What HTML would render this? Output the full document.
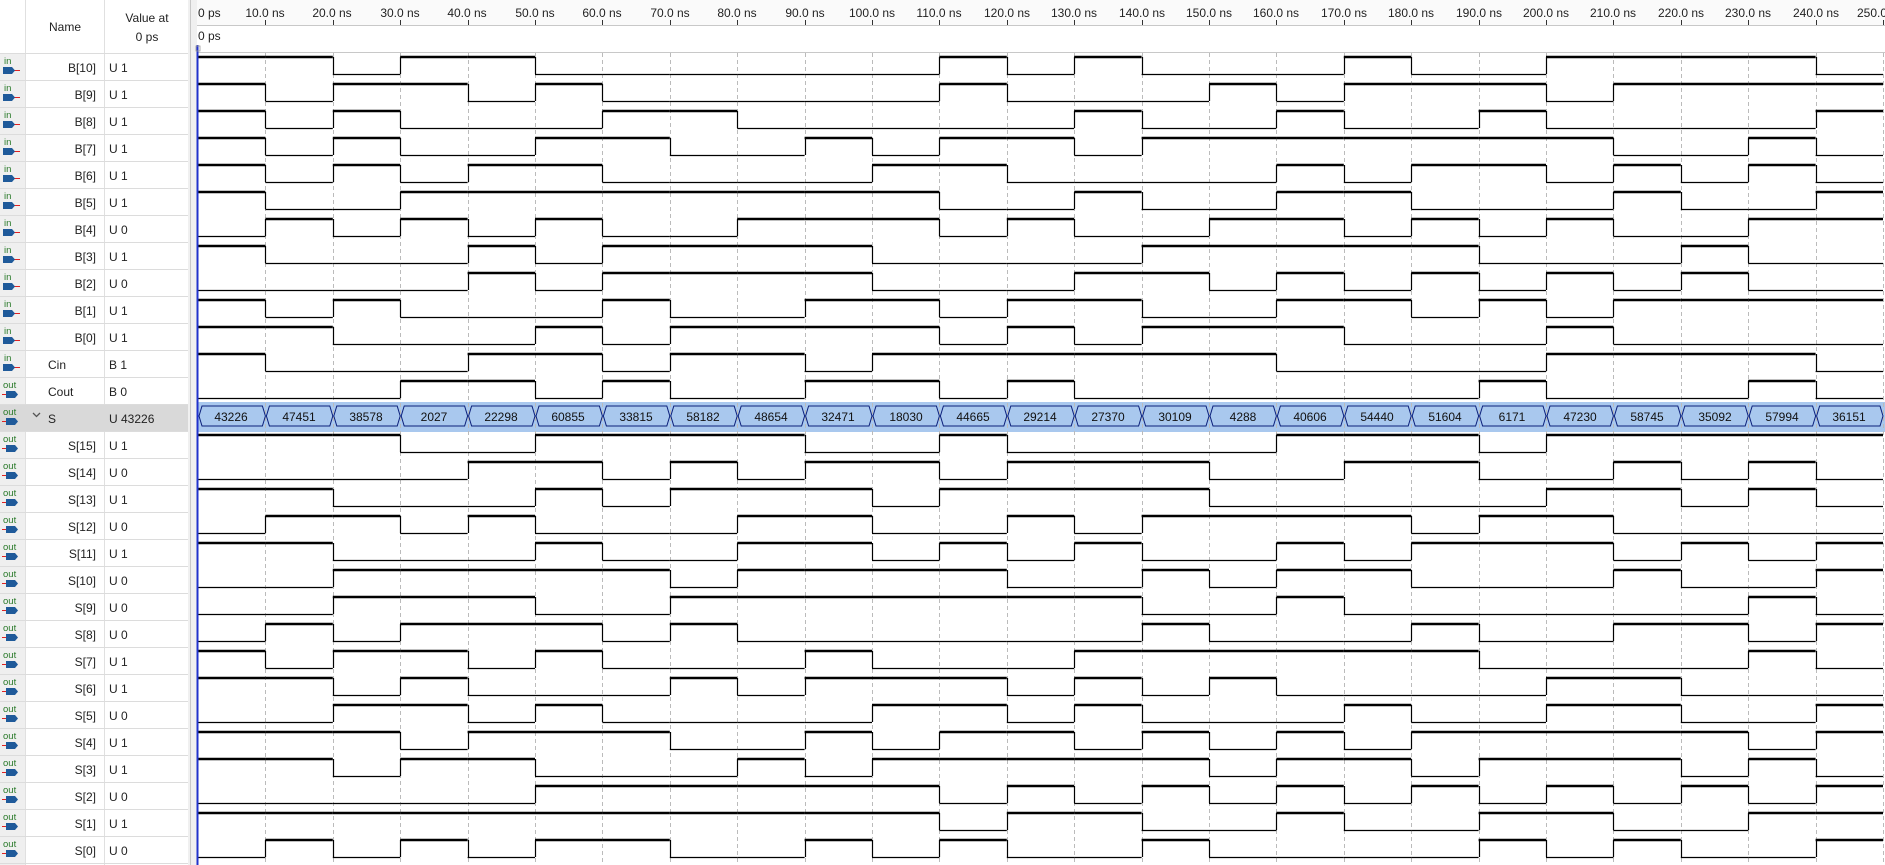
<!DOCTYPE html>
<html><head><meta charset="utf-8"><style>
body{margin:0;width:1885px;height:865px;overflow:hidden;background:#fff;font-family:"Liberation Sans","DejaVu Sans",sans-serif;}
svg{position:absolute;left:0;top:0}
</style></head><body>
<svg id="s" width="1885" height="865" xmlns="http://www.w3.org/2000/svg" font-family="Liberation Sans, DejaVu Sans, sans-serif">
<rect x="0" y="0" width="1885" height="865" fill="#fff"/>
<rect x="0" y="53" width="25" height="812" fill="#efefef"/>
<rect x="188" y="0" width="9" height="865" fill="#f0f0f0"/>
<line x1="190.5" y1="0" x2="190.5" y2="865" stroke="#c8c8c8"/>
<rect x="197" y="0" width="1688" height="25" fill="#fafafa"/>
<line x1="197" y1="25.5" x2="1885" y2="25.5" stroke="#c8c8c8"/>
<line x1="197" y1="52.5" x2="1885" y2="52.5" stroke="#c8c8c8"/>
<line x1="25.5" y1="0" x2="25.5" y2="865" stroke="#e0e0e0"/>
<line x1="104.5" y1="0" x2="104.5" y2="865" stroke="#e0e0e0"/>
<text x="65" y="31" font-size="12" text-anchor="middle" fill="#222">Name</text>
<text x="147" y="22" font-size="12" text-anchor="middle" fill="#222">Value at</text>
<text x="147" y="41" font-size="12" text-anchor="middle" fill="#222">0 ps</text>
<text x="198" y="17" font-size="12" fill="#222">0 ps</text>
<text x="198" y="40" font-size="12" fill="#222">0 ps</text>
<g id="ruler" font-size="12" fill="#222" text-anchor="middle">
<text x="265" y="17">10.0 ns</text><text x="332" y="17">20.0 ns</text><text x="400" y="17">30.0 ns</text><text x="467" y="17">40.0 ns</text><text x="535" y="17">50.0 ns</text><text x="602" y="17">60.0 ns</text><text x="670" y="17">70.0 ns</text><text x="737" y="17">80.0 ns</text><text x="805" y="17">90.0 ns</text><text x="872" y="17">100.0 ns</text><text x="939" y="17">110.0 ns</text><text x="1007" y="17">120.0 ns</text><text x="1074" y="17">130.0 ns</text><text x="1142" y="17">140.0 ns</text><text x="1209" y="17">150.0 ns</text><text x="1276" y="17">160.0 ns</text><text x="1344" y="17">170.0 ns</text><text x="1411" y="17">180.0 ns</text><text x="1479" y="17">190.0 ns</text><text x="1546" y="17">200.0 ns</text><text x="1613" y="17">210.0 ns</text><text x="1681" y="17">220.0 ns</text><text x="1748" y="17">230.0 ns</text><text x="1816" y="17">240.0 ns</text><text x="1872" y="17">250.0</text>
</g>
<rect x="0" y="404" width="188" height="27" fill="#d9d9d9"/>
<g id="names" font-size="12" fill="#222">
<text x="96" y="72" text-anchor="end">B[10]</text><text x="109" y="72">U 1</text>
<text x="96" y="99" text-anchor="end">B[9]</text><text x="109" y="99">U 1</text>
<text x="96" y="126" text-anchor="end">B[8]</text><text x="109" y="126">U 1</text>
<text x="96" y="153" text-anchor="end">B[7]</text><text x="109" y="153">U 1</text>
<text x="96" y="180" text-anchor="end">B[6]</text><text x="109" y="180">U 1</text>
<text x="96" y="207" text-anchor="end">B[5]</text><text x="109" y="207">U 1</text>
<text x="96" y="234" text-anchor="end">B[4]</text><text x="109" y="234">U 0</text>
<text x="96" y="261" text-anchor="end">B[3]</text><text x="109" y="261">U 1</text>
<text x="96" y="288" text-anchor="end">B[2]</text><text x="109" y="288">U 0</text>
<text x="96" y="315" text-anchor="end">B[1]</text><text x="109" y="315">U 1</text>
<text x="96" y="342" text-anchor="end">B[0]</text><text x="109" y="342">U 1</text>
<text x="48" y="369">Cin</text><text x="109" y="369">B 1</text>
<text x="48" y="396">Cout</text><text x="109" y="396">B 0</text>
<text x="48" y="423">S</text><text x="109" y="423">U 43226</text>
<text x="96" y="450" text-anchor="end">S[15]</text><text x="109" y="450">U 1</text>
<text x="96" y="477" text-anchor="end">S[14]</text><text x="109" y="477">U 0</text>
<text x="96" y="504" text-anchor="end">S[13]</text><text x="109" y="504">U 1</text>
<text x="96" y="531" text-anchor="end">S[12]</text><text x="109" y="531">U 0</text>
<text x="96" y="558" text-anchor="end">S[11]</text><text x="109" y="558">U 1</text>
<text x="96" y="585" text-anchor="end">S[10]</text><text x="109" y="585">U 0</text>
<text x="96" y="612" text-anchor="end">S[9]</text><text x="109" y="612">U 0</text>
<text x="96" y="639" text-anchor="end">S[8]</text><text x="109" y="639">U 0</text>
<text x="96" y="666" text-anchor="end">S[7]</text><text x="109" y="666">U 1</text>
<text x="96" y="693" text-anchor="end">S[6]</text><text x="109" y="693">U 1</text>
<text x="96" y="720" text-anchor="end">S[5]</text><text x="109" y="720">U 0</text>
<text x="96" y="747" text-anchor="end">S[4]</text><text x="109" y="747">U 1</text>
<text x="96" y="774" text-anchor="end">S[3]</text><text x="109" y="774">U 1</text>
<text x="96" y="801" text-anchor="end">S[2]</text><text x="109" y="801">U 0</text>
<text x="96" y="828" text-anchor="end">S[1]</text><text x="109" y="828">U 1</text>
<text x="96" y="855" text-anchor="end">S[0]</text><text x="109" y="855">U 0</text>
<path d="M33 413 l3.5 3.5 l3.5 -3.5" fill="none" stroke="#555" stroke-width="1.3"/>
</g>
<g id="icons" font-size="9.5" fill="#2a7a2a">
<text x="4" y="64">in</text><text x="4" y="91">in</text><text x="4" y="118">in</text><text x="4" y="145">in</text><text x="4" y="172">in</text><text x="4" y="199">in</text><text x="4" y="226">in</text><text x="4" y="253">in</text><text x="4" y="280">in</text><text x="4" y="307">in</text><text x="4" y="334">in</text><text x="4" y="361">in</text>
<text x="3" y="388">out</text><text x="3" y="415">out</text><text x="3" y="442">out</text><text x="3" y="469">out</text><text x="3" y="496">out</text><text x="3" y="523">out</text><text x="3" y="550">out</text><text x="3" y="577">out</text><text x="3" y="604">out</text><text x="3" y="631">out</text><text x="3" y="658">out</text><text x="3" y="685">out</text><text x="3" y="712">out</text><text x="3" y="739">out</text><text x="3" y="766">out</text><text x="3" y="793">out</text><text x="3" y="820">out</text><text x="3" y="847">out</text>
</g>
<g id="dyn"></g>
<line x1="197.5" y1="45" x2="197.5" y2="865" stroke="#2233cc" stroke-width="2"/>
<rect x="196" y="46" width="4" height="5" fill="none" stroke="#999" stroke-width="0.8"/>
</svg>
<script>
var T0=198,W=67.4,R0=53,RH=27;
var sig=[
"1101100000010100010011110","1011010000010001011101111","1010001100000100100100001",
"1010011001011011111110010","1010110000110000101101010","1001111111100100110001001",
"0101010011101001101010011","1000101111000011111000100","0000101111000110101010100",
"1010001001101100110101111","1100010111101011100010000","1000110110111111000011110",
"0001101001101000000100010"];
var S=[43226,47451,38578,2027,22298,60855,33815,58182,48654,32471,18030,44665,29214,27370,30109,4288,40606,54440,51604,6171,47230,58745,35092,57994,36151];
for(var b=15;b>=0;b--){var s="";for(var k=0;k<25;k++)s+=((S[k]>>b)&1);sig.push(s);}
var h="";
for(var i=0;i<=30;i++){var y=R0+RH*i+0.5;h+='<line x1="0" y1="'+y+'" x2="188" y2="'+y+'" stroke="#dcdcdc"/>';}
for(var i=0;i<30;i++){if(i==13)continue;var y=R0+RH*i;var out=i>=12;
 if(out)h+='<line x1="2" y1="'+(y+17.5)+'" x2="8" y2="'+(y+17.5)+'" stroke="#d22" stroke-width="1"/>';
 else h+='<line x1="14" y1="'+(y+17.5)+'" x2="20" y2="'+(y+17.5)+'" stroke="#d22" stroke-width="1"/>';
 var x0=out?6:3;h+='<path d="M'+x0+' '+(y+14)+' h9 l3 3.5 l-3 3.5 h-9z" fill="#1f5a9a"/>';}
h+='<line x1="2" y1="'+(R0+RH*13+17.5)+'" x2="8" y2="'+(R0+RH*13+17.5)+'" stroke="#d22"/><path d="M6 '+(R0+RH*13+14)+' h9 l3 3.5 l-3 3.5 h-9z" fill="#1f5a9a"/>';
var by=R0+RH*13;h+='<rect x="198" y="'+(by-2)+'" width="1687" height="30" fill="#a9c8ee"/>';
for(var k=1;k<=25;k++){var x=Math.round(T0+W*k)+0.5;h+='<line x1="'+x+'" y1="53" x2="'+x+'" y2="865" stroke="#bbb" stroke-dasharray="4,3"/>';
 h+='<line x1="'+x+'" y1="20" x2="'+x+'" y2="25" stroke="#333"/>';}
for(var i=0;i<30;i++){if(i==13)continue;var r=i<13?i:i-1;var s=sig[r];var y=R0+RH*i;var yh=y+4,yl=y+21;
 for(var k=0;k<25;k++){var x1=T0+W*k,x2=Math.min(T0+W*(k+1),1885);var v=s[k]=="1";
  h+='<line x1="'+x1+'" y1="'+(v?yh:yl+0.5)+'" x2="'+x2+'" y2="'+(v?yh:yl+0.5)+'" stroke="#000" stroke-width="'+(v?2.5:1.2)+'"/>';
  if(k>0&&s[k]!=s[k-1]){var xx=Math.round(x1)+0.5;h+='<line x1="'+xx+'" y1="'+yh+'" x2="'+xx+'" y2="'+yl+'" stroke="#000" stroke-width="1.2"/>';}}}
for(var k=0;k<25;k++){var x1=T0+W*k,x2=T0+W*(k+1);var t=by+2,m=by+12,bt=by+22;
 h+='<path d="M'+(x1+1)+' '+m+' L'+(x1+4)+' '+t+' L'+(x2-3)+' '+t+' L'+x2+' '+m+' L'+(x2-3)+' '+bt+' L'+(x1+4)+' '+bt+'Z" fill="#a9c8ee" stroke="#0b1f7a" stroke-width="1"/>';}
document.getElementById('dyn').innerHTML=h;
</script>
<svg width="1885" height="865" xmlns="http://www.w3.org/2000/svg" font-family="Liberation Sans, DejaVu Sans, sans-serif" font-size="12" fill="#111" text-anchor="middle" style="pointer-events:none">
<text x="231" y="421">43226</text><text x="299" y="421">47451</text><text x="366" y="421">38578</text><text x="434" y="421">2027</text><text x="501" y="421">22298</text><text x="568" y="421">60855</text><text x="636" y="421">33815</text><text x="703" y="421">58182</text><text x="771" y="421">48654</text><text x="838" y="421">32471</text><text x="906" y="421">18030</text><text x="973" y="421">44665</text><text x="1040" y="421">29214</text><text x="1108" y="421">27370</text><text x="1175" y="421">30109</text><text x="1243" y="421">4288</text><text x="1310" y="421">40606</text><text x="1377" y="421">54440</text><text x="1445" y="421">51604</text><text x="1512" y="421">6171</text><text x="1580" y="421">47230</text><text x="1647" y="421">58745</text><text x="1715" y="421">35092</text><text x="1782" y="421">57994</text><text x="1849" y="421">36151</text>
</svg>
</body></html>
